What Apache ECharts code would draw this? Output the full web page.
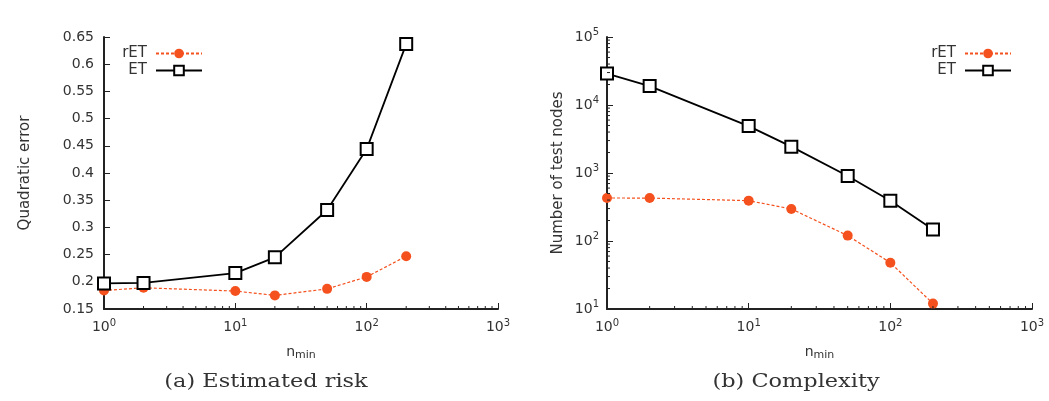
<!DOCTYPE html>
<html>
<head>
<meta charset="utf-8">
<script src="https://cdn.jsdelivr.net/npm/echarts@6/dist/echarts.min.js"></script>
<style>html,body{margin:0;padding:0;background:#fff}#c{width:1049px;height:401px}</style>
</head>
<body>
<div id="c"></div>
<script>
// ---- data ----
const nmin = [1, 2, 10, 20, 50, 100, 200];
const riskRET = [0.184, 0.189, 0.183, 0.175, 0.187, 0.209, 0.247];
const riskET = [0.197, 0.198, 0.216, 0.245, 0.332, 0.444, 0.637];
const nodesRET = [429, 428, 392, 296, 120, 48, 12];
const nodesET = [29000, 19000, 4900, 2440, 905, 392, 148];
const xMinorTicks = [2,3,4,5,6,7,8,9,20,30,40,50,60,70,80,90,200,300,400,500,600,700,800,900];
const yMinorTicks = [20,30,40,50,60,70,80,90,200,300,400,500,600,700,800,900,2000,3000,4000,5000,6000,7000,8000,9000,20000,30000,40000,50000,60000,70000,80000,90000];
const captions = ['(a) Estimated risk', '(b) Complexity'];
const yNames = ['Quadratic error', 'Number of test nodes'];

const RED = '#f4511e';
const AX = '#222';
const TXT = '#333';
const SANS = 'DejaVu Sans';

function pow10Label(v) {
  const e = Math.round(Math.log10(v));
  return '{b|10}{s|' + e + '}';
}
const powRich = {
  b: { fontSize: 14, fontFamily: SANS, color: TXT },
  s: { fontSize: 10, fontFamily: SANS, color: TXT, verticalAlign: 'bottom', padding: [0, 0, 9, 0] }
};
const nameRich = {
  n: { fontSize: 14, fontFamily: SANS, color: TXT },
  m: { fontSize: 11, fontFamily: SANS, color: TXT, verticalAlign: 'top', padding: [6, 0, 0, 0] }
};

function logX(grid) {
  return {
    type: 'log', logBase: 10, min: 1, max: 1000, gridIndex: grid,
    name: '{n|n}{m|min}', nameLocation: 'middle', nameGap: 35,
    nameTextStyle: { rich: nameRich },
    axisLine: { show: true, onZero: false, lineStyle: { color: AX, width: 2 } },
    axisTick: { show: true, inside: true, length: 6, lineStyle: { color: AX, width: 1 } },
    axisLabel: { formatter: pow10Label, rich: powRich, margin: 9 },
    splitLine: { show: false }
  };
}

function minorX(grid, yMin) {
  return {
    type: 'custom', xAxisIndex: grid, yAxisIndex: grid, silent: true, clip: false, z: 5,
    data: xMinorTicks.map(v => [v, yMin]),
    renderItem: function (params, api) {
      const p = api.coord([api.value(0), api.value(1)]);
      return { type: 'line', shape: { x1: p[0], y1: p[1], x2: p[0], y2: p[1] - 3 }, style: { stroke: AX, lineWidth: 1 } };
    },
    tooltip: { show: false }
  };
}

function legendItem(name, right, top) {
  return { data: [name], orient: 'vertical', align: 'right', right: right, top: top, padding: 0,
    itemWidth: 46, itemHeight: 12, textStyle: { fontSize: 15, fontFamily: SANS, color: TXT, padding: [0, 4, 0, 0] } };
}

const option = {
  animation: false,
  backgroundColor: '#fff',
  grid: [
    { left: 104, top: 37, width: 394, height: 272 },
    { left: 607, top: 37, width: 425, height: 272 }
  ],
  xAxis: [logX(0), logX(1)],
  yAxis: [
    {
      type: 'value', gridIndex: 0, min: 0.15, max: 0.65, interval: 0.05,
      name: yNames[0], nameLocation: 'middle', nameGap: 71, nameRotate: 90,
      nameTextStyle: { fontSize: 15, fontFamily: SANS, color: TXT },
      axisLine: { show: true, onZero: false, lineStyle: { color: AX, width: 2 } },
      axisTick: { show: true, inside: true, length: 6, lineStyle: { color: AX, width: 1 } },
      axisLabel: { fontSize: 14, fontFamily: SANS, color: TXT, margin: 10 },
      splitLine: { show: false }
    },
    {
      type: 'log', logBase: 10, gridIndex: 1, min: 10, max: 100000,
      name: yNames[1], nameLocation: 'middle', nameGap: 41, nameRotate: 90,
      nameTextStyle: { fontSize: 15, fontFamily: SANS, color: TXT },
      axisLine: { show: true, onZero: false, lineStyle: { color: AX, width: 2 } },
      axisTick: { show: true, inside: true, length: 6, lineStyle: { color: AX, width: 1 } },
      axisLabel: { formatter: pow10Label, rich: powRich, margin: 8 },
      splitLine: { show: false }
    }
  ],
  legend: [
    legendItem('rET', 846, 46),
    legendItem('ET', 846, 63),
    legendItem('rET', 37, 46),
    legendItem('ET', 37, 63)
  ],
  series: [
    {
      name: 'rET', type: 'line', xAxisIndex: 0, yAxisIndex: 0, z: 3,
      data: nmin.map((x, i) => [x, riskRET[i]]),
      symbol: 'circle', symbolSize: 10, color: RED,
      lineStyle: { color: RED, width: 1.2, type: [3, 2] },
      itemStyle: { color: RED }
    },
    {
      name: 'ET', type: 'line', xAxisIndex: 0, yAxisIndex: 0, z: 4,
      data: nmin.map((x, i) => [x, riskET[i]]),
      symbol: 'emptyRect', symbolSize: 12, color: '#000',
      lineStyle: { color: '#000', width: 1.8 },
      itemStyle: { color: '#000', borderWidth: 1.6 }
    },
    {
      name: 'rET', type: 'line', xAxisIndex: 1, yAxisIndex: 1, z: 3,
      data: nmin.map((x, i) => [x, nodesRET[i]]),
      symbol: 'circle', symbolSize: 10, color: RED,
      lineStyle: { color: RED, width: 1.2, type: [3, 2] },
      itemStyle: { color: RED }
    },
    {
      name: 'ET', type: 'line', xAxisIndex: 1, yAxisIndex: 1, z: 4,
      data: nmin.map((x, i) => [x, nodesET[i]]),
      symbol: 'emptyRect', symbolSize: 12, color: '#000',
      lineStyle: { color: '#000', width: 1.8 },
      itemStyle: { color: '#000', borderWidth: 1.6 }
    },
    minorX(0, 0.15),
    minorX(1, 10),
    {
      type: 'custom', xAxisIndex: 1, yAxisIndex: 1, silent: true, clip: false, z: 5,
      data: yMinorTicks.map(v => [1, v]),
      renderItem: function (params, api) {
        const p = api.coord([api.value(0), api.value(1)]);
        return { type: 'line', shape: { x1: p[0], y1: p[1], x2: p[0] + 3, y2: p[1] }, style: { stroke: AX, lineWidth: 1 } };
      }
    }
  ],
  graphic: [
    { type: 'text', x: 266, y: 382, scaleX: 1.18, style: { text: captions[0], font: '19px "DejaVu Serif"', fill: TXT, textAlign: 'center', textVerticalAlign: 'middle' } },
    { type: 'text', x: 796, y: 382, scaleX: 1.18, style: { text: captions[1], font: '19px "DejaVu Serif"', fill: TXT, textAlign: 'center', textVerticalAlign: 'middle' } }
  ]
};

const chart = echarts.init(document.getElementById('c'), null, { renderer: 'canvas' });
chart.setOption(option);
</script>
</body>
</html>
